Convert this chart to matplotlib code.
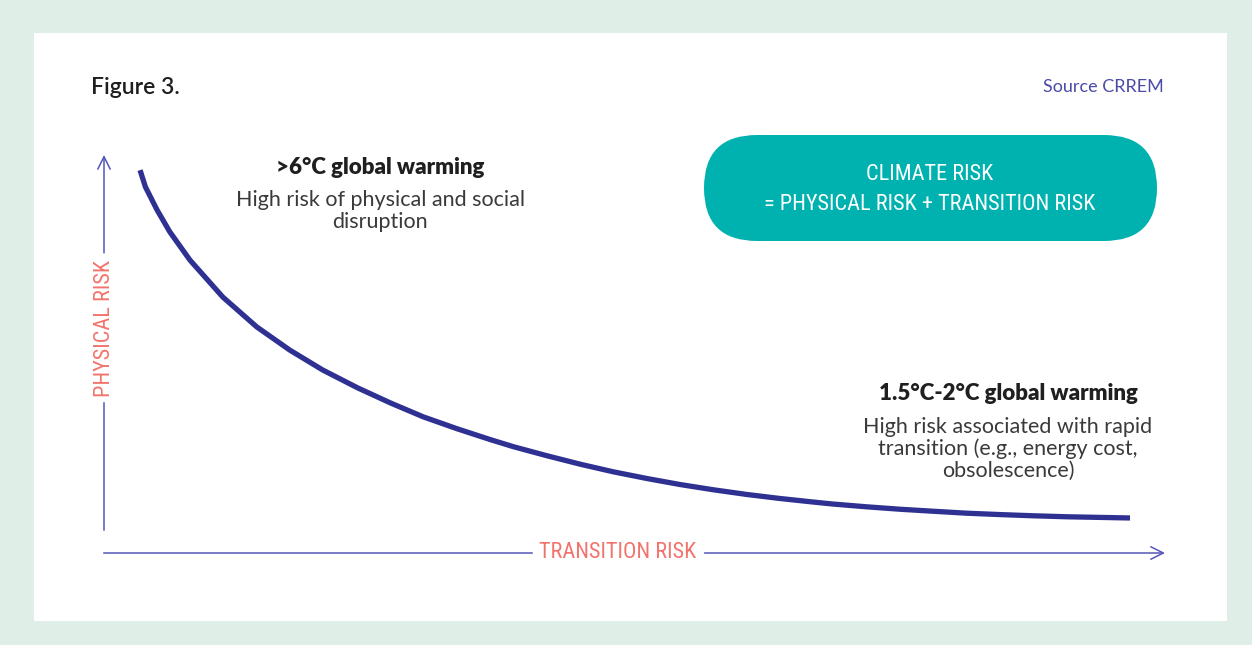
import matplotlib.pyplot as plt
from matplotlib import font_manager
from matplotlib.patches import FancyBboxPatch, Rectangle

# ---- data (arbitrary risk units 0-100) ----
transition_risk = [3.4, 3.9, 5.0, 6.2, 8.1, 11.2, 14.4, 17.5, 20.6, 23.9,
                   27.0, 30.1, 33.3, 36.4, 38.6, 41.8, 44.9, 48.0, 51.2, 54.3,
                   57.4, 60.6, 63.7, 66.5, 68.7, 71.9, 75.0, 78.1, 81.3, 84.5,
                   87.6, 90.8, 96.7]
physical_risk = [96.2, 92.0, 86.2, 80.7, 73.6, 64.3, 56.8, 51.0, 46.0, 41.5,
                 37.7, 34.2, 31.2, 28.5, 26.7, 24.4, 22.3, 20.4, 18.7, 17.2,
                 15.9, 14.7, 13.7, 12.9, 12.3, 11.6, 11.0, 10.5, 10.0, 9.65,
                 9.35, 9.1, 8.8]

title = "Figure 3."
source = "Source CRREM"
x_label = "TRANSITION RISK"
y_label = "PHYSICAL RISK"
pill_lines = ["CLIMATE RISK", "= PHYSICAL RISK + TRANSITION RISK"]
high_head = ">6°C global warming"
high_body = "High risk of physical and social\ndisruption"
low_head = "1.5°C-2°C global warming"
low_body = "High risk associated with rapid\ntransition (e.g., energy cost,\nobsolescence)"

# ---- style ----
BG_GREEN = "#dfefe7"
CURVE = "#2e3192"
AXIS = "#5557b8"
CORAL = "#f2736b"
TEAL = "#00b2af"
DARK = "#1f1f1f"
BODY = "#3a3a3a"
SRC = "#4b4ba6"
SANS = ["Lato", "DejaVu Sans"]

installed = {f.name for f in font_manager.fontManager.ttflist}
if "Roboto Condensed" in installed:
    NARROW, narrow_size = ["Roboto Condensed", "DejaVu Sans"], 16
else:
    NARROW, narrow_size = ["Roboto", "DejaVu Sans"], 14

W, H = 1252, 645
fig = plt.figure(figsize=(W / 100, H / 100), dpi=100)
fig.patch.set_facecolor(BG_GREEN)

# background / annotation layer in pixel units
bg = fig.add_axes([0, 0, 1, 1])
bg.set_xlim(0, W)
bg.set_ylim(H, 0)
bg.axis("off")
bg.add_patch(Rectangle((34, 33), 1193, 588, facecolor="white", edgecolor="none"))

bg.text(91, 87, title, fontsize=16.5, fontweight="semibold", color=DARK,
        family=SANS, ha="left", va="center")
bg.text(1164, 87, source, fontsize=13, color=SRC, family=SANS,
        ha="right", va="center")

# pill
bg.add_patch(FancyBboxPatch((704, 135), 453, 106,
                            boxstyle="round,pad=0,rounding_size=53",
                            facecolor=TEAL, edgecolor="none"))
bg.text(930, 175, pill_lines[0], fontsize=narrow_size, color="white",
        family=NARROW, ha="center", va="center")
bg.text(930, 204, pill_lines[1], fontsize=narrow_size, color="white",
        family=NARROW, ha="center", va="center")

# annotations
bg.text(380, 168, high_head, fontsize=16, fontweight="heavy", color=DARK,
        family=SANS, ha="center", va="center")
bg.text(380, 211, high_body, fontsize=15.5, color=BODY, family=SANS,
        ha="center", va="center", linespacing=1.1)
bg.text(1008, 394, low_head, fontsize=16, fontweight="heavy", color=DARK,
        family=SANS, ha="center", va="center")
bg.text(1008, 449, low_body, fontsize=15.5, color=BODY, family=SANS,
        ha="center", va="center", linespacing=1.1)

# ---- chart axes: x 104->1165 px, y 553->155 px ----
x0, x1, y0, y1 = 104, 1165, 553, 155
ax = fig.add_axes([x0 / W, 1 - y0 / H, (x1 - x0) / W, (y0 - y1) / H])
ax.set_xlim(0, 100)
ax.set_ylim(0, 100)
ax.axis("off")
ax.patch.set_alpha(0)

ax.plot(transition_risk, physical_risk, color=CURVE, linewidth=3.8,
        solid_capstyle="butt", solid_joinstyle="round")

# axis lines with labels breaking them
arrow = dict(arrowstyle="->,head_length=0.9,head_width=0.45", color=AXIS, lw=1.1,
             shrinkA=0, shrinkB=0)
ax.plot([0, 40.3], [0, 0], color=AXIS, lw=1.1, clip_on=False)
ax.annotate("", xy=(100, 0), xytext=(56.6, 0), arrowprops=arrow,
            annotation_clip=False)
ax.text(48.4, 0, x_label, fontsize=narrow_size, color=CORAL, family=NARROW,
        ha="center", va="center")

ax.plot([0, 0], [5.8, 37.7], color=AXIS, lw=1.1, clip_on=False)
ax.annotate("", xy=(0, 100), xytext=(0, 75.4), arrowprops=arrow,
            annotation_clip=False)
ax.text(0, 56.5, y_label, fontsize=narrow_size, color=CORAL, family=NARROW,
        rotation=90, ha="center", va="center")

fig.savefig("out.png", dpi=100, facecolor=fig.get_facecolor())
